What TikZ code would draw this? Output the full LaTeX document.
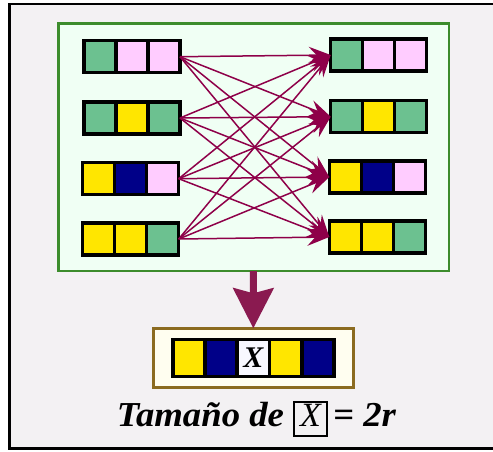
\documentclass[tikz,border=0pt]{standalone}
\usepackage{fontspec}
\usepackage{graphicx}
\setmainfont{Liberation Serif}
\usetikzlibrary{arrows.meta}

\definecolor{gcell}{HTML}{6CC190}
\definecolor{pcell}{HTML}{FFCCFF}
\definecolor{ycell}{HTML}{FFE600}
\definecolor{ncell}{HTML}{000088}
\definecolor{xcell}{HTML}{F8F8FF}
\definecolor{framebg}{HTML}{F3F1F3}
\definecolor{panelbg}{HTML}{F0FFF4}
\definecolor{panelline}{HTML}{3C8C2C}
\definecolor{resbg}{HTML}{FFFEF0}
\definecolor{resline}{HTML}{8B6B20}
\definecolor{linkcol}{HTML}{8E0049}
\definecolor{bigcol}{HTML}{8A1A50}

\tikzset{
  cell/.style={draw=black, line width=3.4pt, minimum width=32pt, minimum height=32pt,
               inner sep=0pt, outer sep=0pt},
  tallcell/.style={cell, minimum height=37pt},
  panel/.style={draw=panelline, fill=panelbg, line width=2.8pt, inner sep=0pt, outer sep=0pt},
  resbox/.style={draw=resline, fill=resbg, line width=2.8pt, inner sep=0pt, outer sep=0pt},
  link/.style={draw=linkcol, line width=1.5pt,
               -{Stealth[length=22pt, width=17pt, inset=8pt]}},
  bigarrow/.style={draw=bigcol, line width=7pt,
               -{Stealth[length=40pt, width=40pt, inset=5pt]}},
  captext/.style={inner sep=0pt, font=\fontsize{35}{38}\selectfont\bfseries\itshape},
}

% one chromosome of three genes: name, x of first cell centre, y, three colours
\newcommand\generow[6]{%
  \node[cell, fill=#4] (#1a) at (#2,#3) {};
  \node[cell, fill=#5] (#1b) at (#2+32,#3) {};
  \node[cell, fill=#6] (#1c) at (#2+64,#3) {};
}

\begin{document}
\begin{tikzpicture}[x=1pt, y=-1pt]
  \clip (0,0) rectangle (493,451);
  \fill[white] (0,0) rectangle (493,451);

  % outer frame
  \path[draw=black, fill=framebg, line width=2.4pt] (9.5,4) rectangle (510,448.5);

  % population panel
  \node[panel, minimum width=390.3pt, minimum height=247.7pt] (panel) at (253.85,147.2) {};

  % parents (left)
  \generow{L1}{100}{56.7}{gcell}{pcell}{pcell}
  \generow{L2}{100}{118}{gcell}{ycell}{gcell}
  \generow{L3}{98.7}{178.7}{ycell}{ncell}{pcell}
  \generow{L4}{98.7}{239}{ycell}{ycell}{gcell}

  % offspring (right)
  \generow{R1}{346.7}{55}{gcell}{pcell}{pcell}
  \generow{R2}{346.7}{116.7}{gcell}{ycell}{gcell}
  \generow{R3}{345.3}{177}{ycell}{ncell}{pcell}
  \generow{R4}{345.3}{237}{ycell}{ycell}{gcell}

  % every parent linked to every offspring
  \foreach \i in {1,...,4}
    \foreach \j in {1,...,4}
      \draw[link] (L\i c.east) -- (R\j a.west);

  % result box with the encoded string
  \node[resbox, minimum width=200pt, minimum height=59.4pt] (res) at (253.3,358) {};
  \node[tallcell, fill=ycell] (s1) at (188.8,358) {};
  \node[tallcell, fill=ncell] (s2) at (221.1,358) {};
  \node[tallcell, fill=xcell, font=\fontsize{30}{32}\selectfont\bfseries\itshape] (s3) at (253.4,358) {X};
  \node[tallcell, fill=ycell] (s4) at (285.7,358) {};
  \node[tallcell, fill=ncell] (s5) at (318,358) {};

  \draw[bigarrow] (panel.south -| s3.north) -- (res.north);

  % caption
  \node[captext, anchor=base west] (cap1) at (116.7,426.7) {\scalebox{1.05}[1]{Tamaño de}};
  \node[draw=black, line width=1.8pt, minimum width=33pt, minimum height=34pt,
        inner sep=0pt] (xbox) at (310.5,419) {};
  \node[inner sep=0pt, anchor=base, font=\fontsize{34}{36}\selectfont\itshape] (xlab)
        at (xbox.center |- cap1.base) {X};
  \node[captext, anchor=base west] (cap2) at (333,426.7) {\scalebox{1.05}[1]{= 2r}};
\end{tikzpicture}
\end{document}
